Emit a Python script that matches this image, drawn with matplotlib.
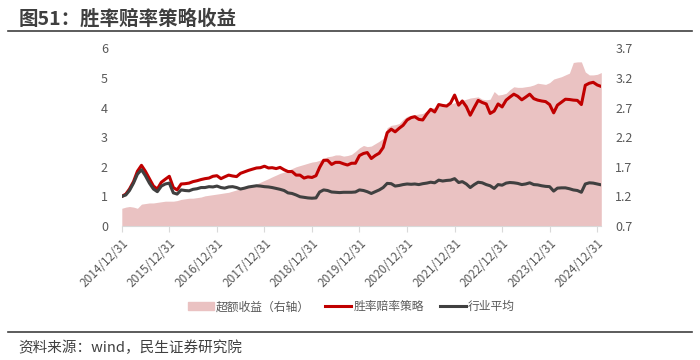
import numpy as np
import pandas as pd
import matplotlib
matplotlib.use('Agg')
import matplotlib.pyplot as plt
import matplotlib.dates as mdates
from matplotlib.patches import Patch
from matplotlib.lines import Line2D

plt.rcParams['font.family'] = ['Noto Sans CJK SC', 'DejaVu Sans']
plt.rcParams['axes.unicode_minus'] = False

# 月度数据 2014/12/31 起
dates = pd.date_range('2014-12-31', periods=122, freq='ME')

# 胜率赔率策略（左轴）
strategy = [1.00, 1.08, 1.25, 1.50, 1.85, 2.05, 1.85, 1.60, 1.35, 1.25,
            1.48, 1.58, 1.68, 1.30, 1.22, 1.42, 1.43, 1.45, 1.50, 1.53,
            1.57, 1.60, 1.62, 1.68, 1.70, 1.60, 1.66, 1.72, 1.69, 1.67,
            1.78, 1.83, 1.88, 1.92, 1.96, 1.97, 2.02, 1.96, 1.97, 1.94,
            1.98, 1.90, 1.84, 1.84, 1.72, 1.72, 1.62, 1.66, 1.64, 1.70,
            1.98, 2.22, 2.22, 2.08, 2.15, 2.15, 2.10, 2.06, 2.12, 2.12,
            2.38, 2.45, 2.48, 2.28, 2.38, 2.46, 2.65, 3.15, 3.27, 3.18,
            3.30, 3.40, 3.58, 3.66, 3.69, 3.60, 3.58, 3.78, 3.94, 3.85,
            4.10, 4.07, 4.05, 4.15, 4.42, 4.08, 4.22, 4.03, 3.74, 4.00,
            4.24, 4.17, 4.12, 3.80, 3.88, 4.12, 4.02, 4.25, 4.35, 4.45,
            4.38, 4.26, 4.35, 4.45, 4.30, 4.25, 4.22, 4.20, 4.10, 3.82,
            4.08, 4.18, 4.28, 4.27, 4.25, 4.24, 4.10, 4.75, 4.82, 4.85,
            4.76, 4.71]

# 行业平均（左轴）
industry = [1.00, 1.05, 1.20, 1.45, 1.75, 1.90, 1.70, 1.45, 1.25, 1.16,
            1.35, 1.42, 1.45, 1.12, 1.08, 1.22, 1.20, 1.19, 1.24, 1.26,
            1.30, 1.30, 1.33, 1.32, 1.35, 1.30, 1.28, 1.32, 1.33, 1.30,
            1.25, 1.28, 1.32, 1.34, 1.36, 1.35, 1.33, 1.32, 1.30, 1.27,
            1.24, 1.20, 1.12, 1.10, 1.05, 0.99, 0.97, 0.95, 0.94, 0.95,
            1.15, 1.22, 1.20, 1.15, 1.14, 1.13, 1.14, 1.14, 1.14, 1.15,
            1.22, 1.20, 1.16, 1.10, 1.16, 1.22, 1.30, 1.44, 1.43, 1.35,
            1.37, 1.40, 1.42, 1.41, 1.42, 1.40, 1.43, 1.45, 1.48, 1.46,
            1.55, 1.52, 1.54, 1.55, 1.60, 1.47, 1.50, 1.42, 1.30, 1.40,
            1.48, 1.46, 1.40, 1.36, 1.27, 1.40, 1.38, 1.45, 1.47, 1.46,
            1.44, 1.40, 1.42, 1.46, 1.40, 1.39, 1.36, 1.34, 1.33, 1.18,
            1.28, 1.29, 1.29, 1.26, 1.22, 1.20, 1.14, 1.42, 1.46, 1.45,
            1.42, 1.39]

# 超额收益（右轴）
excess = [1.00, 1.02, 1.03, 1.02, 1.00, 1.07, 1.08, 1.09, 1.09, 1.10,
          1.11, 1.12, 1.12, 1.12, 1.13, 1.15, 1.16, 1.17, 1.17, 1.18,
          1.19, 1.21, 1.22, 1.23, 1.24, 1.25, 1.26, 1.27, 1.29, 1.31,
          1.33, 1.35, 1.37, 1.39, 1.41, 1.44, 1.47, 1.50, 1.53, 1.56,
          1.59, 1.61, 1.64, 1.67, 1.70, 1.72, 1.74, 1.76, 1.78, 1.79,
          1.81, 1.84, 1.87, 1.88, 1.90, 1.90, 1.88, 1.89, 1.91, 1.96,
          2.02, 2.06, 2.04, 2.05, 2.09, 2.13, 2.18, 2.36, 2.40, 2.41,
          2.43, 2.50, 2.55, 2.57, 2.58, 2.59, 2.60, 2.64, 2.69, 2.70,
          2.73, 2.72, 2.73, 2.76, 2.78, 2.80, 2.82, 2.84, 2.86, 2.87,
          2.88, 2.84, 2.83, 2.84, 2.97, 2.91, 2.92, 2.94, 3.00, 3.05,
          3.04, 3.04, 3.05, 3.06, 3.08, 3.11, 3.10, 3.09, 3.12, 3.18,
          3.20, 3.22, 3.25, 3.28, 3.46, 3.47, 3.47, 3.30, 3.25, 3.25,
          3.26, 3.29]

left_ticks = [0, 1, 2, 3, 4, 5, 6]
right_ticks = [0.7, 1.2, 1.7, 2.2, 2.7, 3.2, 3.7]
tick_dates = pd.date_range('2014-12-31', '2024-12-31', freq='12ME')

grey = '#595959'
fig = plt.figure(figsize=(7, 3.6), dpi=100)
ax = fig.add_axes([0.174, 0.372, 0.685, 0.494])
ax2 = ax.twinx()

ax2.fill_between(dates, 0.7, excess, color='#EAC2C2', lw=0)
ax2.set_ylim(0.7, 3.7)
ax2.set_yticks(right_ticks)
ax2.set_yticklabels([str(v) for v in right_ticks])

ax.plot(dates, strategy, color='#C00000', lw=2.2, zorder=3)
ax.plot(dates, industry, color='#404040', lw=2.2, zorder=3)
ax.set_ylim(0, 6)
ax.set_yticks(left_ticks)
ax.set_xlim(dates[0], dates[-1])
ax.set_xticks(tick_dates)
ax.xaxis.set_major_formatter(mdates.DateFormatter('%Y/%m/%d'))

# 折线放到填充之上
ax.set_zorder(ax2.get_zorder() + 1)
ax.patch.set_visible(False)

for a in (ax, ax2):
    for s in ('top', 'left', 'right'):
        a.spines[s].set_visible(False)
    a.spines['bottom'].set_color('#D9D9D9')
    a.tick_params(axis='y', length=0, labelsize=9, colors=grey, pad=10)
ax2.spines['bottom'].set_visible(False)
ax.tick_params(axis='x', length=4, color='#D9D9D9', labelsize=8.5, labelcolor=grey)
plt.setp(ax.get_xticklabels(), rotation=45, ha='right', rotation_mode='anchor')

handles = [Patch(color='#EAC2C2'),
           Line2D([], [], color='#C00000', lw=2.2),
           Line2D([], [], color='#404040', lw=2.2)]
fig.legend(handles, ['超额收益（右轴）', '胜率赔率策略', '行业平均'],
           loc='center', bbox_to_anchor=(0.502, 0.148), ncol=3, frameon=False,
           fontsize=8.5, labelcolor=grey, handlelength=2.2, handletextpad=0.2,
           columnspacing=1.3)

fig.text(0.026, 0.948, '图51：胜率赔率策略收益', fontsize=14, fontweight='bold',
         color='#3F3F3F', va='center')
fig.add_artist(Line2D([0.012, 0.988], [0.915, 0.915], color='#404040', lw=1.2))
fig.add_artist(Line2D([0.012, 0.988], [0.078, 0.078], color='#404040', lw=1.2))
fig.text(0.026, 0.035, '资料来源：wind，民生证券研究院', fontsize=10.5,
         color='#404040', va='center')

fig.savefig('out.png', dpi=100)
